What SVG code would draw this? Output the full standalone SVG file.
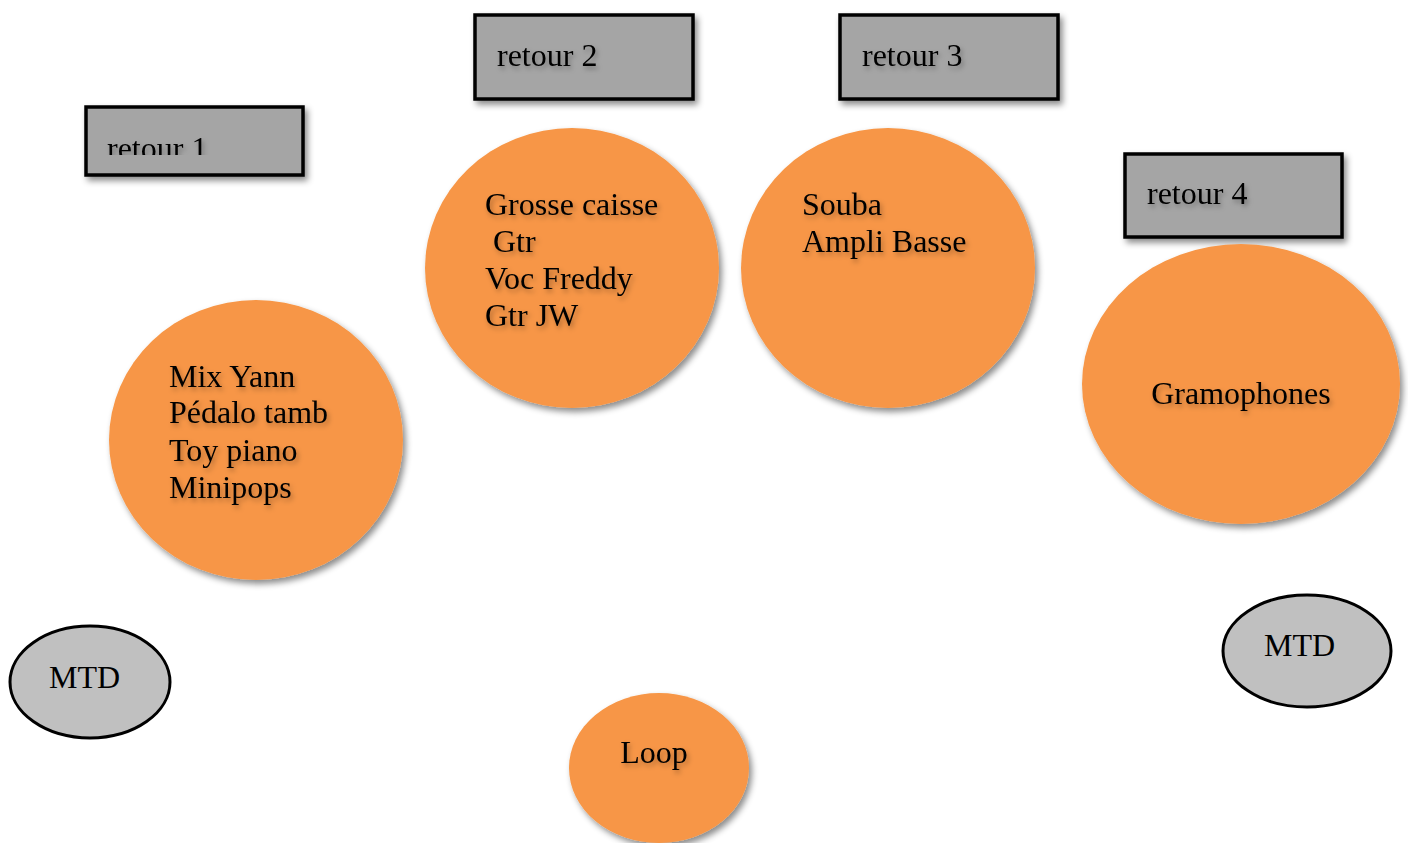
<svg xmlns="http://www.w3.org/2000/svg" width="1408" height="843" viewBox="0 0 1408 843">
<defs>
<filter id="sh" x="-20%" y="-20%" width="140%" height="140%">
<feDropShadow dx="3" dy="4" stdDeviation="3" flood-color="#000" flood-opacity="0.45"/>
</filter>
<filter id="tsh" x="-10%" y="-30%" width="120%" height="160%">
<feDropShadow dx="2" dy="3" stdDeviation="2.5" flood-color="#000" flood-opacity="0.3"/>
</filter>
<clipPath id="c1"><rect x="86" y="107" width="217" height="48"/></clipPath>
</defs>
<style>
.box{fill:#A5A5A5;stroke:#000;stroke-width:3.5}
.stage{fill:#F79646;stroke:none}
.mtd{fill:#C0C0C0;stroke:#000;stroke-width:3}
text{font-family:"Liberation Serif","Times New Roman",serif;font-size:32px;fill:#000}
</style>
<g id="connectors"/>
<g id="retour1">
<rect class="box" x="86" y="107" width="217" height="68" filter="url(#sh)"/>
<text x="107" y="159" clip-path="url(#c1)" filter="url(#tsh)">retour 1</text>
</g>
<g id="retour2">
<rect class="box" x="475" y="15" width="218" height="84" filter="url(#sh)"/>
<text x="497" y="66" filter="url(#tsh)">retour 2</text>
</g>
<g id="retour3">
<rect class="box" x="840" y="15" width="218" height="84" filter="url(#sh)"/>
<text x="862" y="66" filter="url(#tsh)">retour 3</text>
</g>
<g id="retour4">
<rect class="box" x="1125" y="154" width="217" height="83" filter="url(#sh)"/>
<text x="1147" y="204" filter="url(#tsh)">retour 4</text>
</g>
<g id="zone-grosse-caisse">
<ellipse class="stage" cx="572" cy="268" rx="147" ry="140" filter="url(#sh)"/>
<g filter="url(#tsh)">
<text x="485" y="215">Grosse caisse</text>
<text x="485" y="252" xml:space="preserve"> Gtr</text>
<text x="485" y="289">Voc Freddy</text>
<text x="485" y="326">Gtr JW</text>
</g>
</g>
<g id="zone-souba">
<ellipse class="stage" cx="888" cy="268" rx="147" ry="140" filter="url(#sh)"/>
<g filter="url(#tsh)">
<text x="802" y="215">Souba</text>
<text x="802" y="252">Ampli Basse</text>
</g>
</g>
<g id="zone-mix-yann">
<ellipse class="stage" cx="256" cy="440" rx="147" ry="140" filter="url(#sh)"/>
<g filter="url(#tsh)">
<text x="169" y="387">Mix Yann</text>
<text x="169" y="423">Pédalo tamb</text>
<text x="169" y="461">Toy piano</text>
<text x="169" y="498">Minipops</text>
</g>
</g>
<g id="zone-gramophones">
<ellipse class="stage" cx="1241" cy="384" rx="159" ry="140" filter="url(#sh)"/>
<text x="1241" y="404" text-anchor="middle" filter="url(#tsh)">Gramophones</text>
</g>
<g id="zone-loop">
<ellipse class="stage" cx="659" cy="768" rx="90" ry="75" filter="url(#sh)"/>
<text x="654" y="763" text-anchor="middle" filter="url(#tsh)">Loop</text>
</g>
<g id="mtd-left">
<ellipse class="mtd" cx="90" cy="682" rx="80" ry="56"/>
<text x="49" y="688">MTD</text>
</g>
<g id="mtd-right">
<ellipse class="mtd" cx="1307" cy="651" rx="84" ry="56"/>
<text x="1264" y="656">MTD</text>
</g>
</svg>
